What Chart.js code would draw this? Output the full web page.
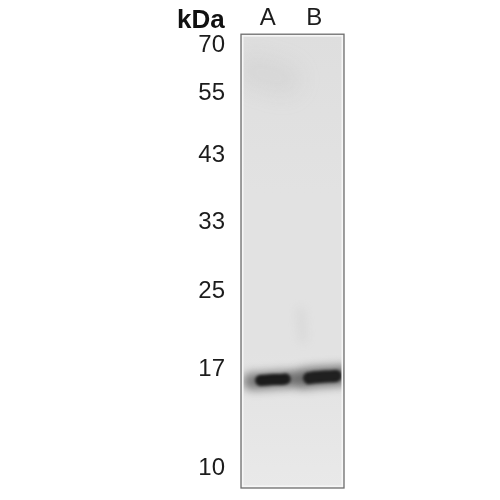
<!DOCTYPE html>
<html><head><meta charset="utf-8">
<style>html,body{margin:0;padding:0;background:#fff}canvas{display:block}</style>
<script src="https://cdn.jsdelivr.net/npm/chart.js@4"></script></head>
<body><canvas id="c" width="500" height="500"></canvas>
<script>
const unitLabel = "kDa";
const laneLabels = ["A", "B"];
const lanePositions = [26, 71];
const markerLabels = ["70", "55", "43", "33", "25", "17", "10"];
const markerPositions = [2.4, 13.1, 26.8, 41.5, 56.7, 73.8, 95.7];
const haloAX = [10, 20, 32, 42, 48];
const haloAY = [76.5, 76.4, 76.2, 76.1, 76.0];
const coreAX = [19, 26, 32, 38, 43];
const coreAY = [76.3, 76.2, 76.1, 76.1, 76.0];
const haloBX = [60, 68, 78, 88, 98];
const haloBY = [75.9, 75.7, 75.5, 75.4, 75.2];
const coreBX = [66, 72, 79, 86, 92];
const coreBY = [75.8, 75.6, 75.5, 75.4, 75.3];
const smearAX = [12, 42];
const smearAY = [8, 10];
const smearBX = [58, 60];
const smearBY = [61, 67];

function layer(xs, ys, color, width, blur) {
  return {
    data: xs.map((x, i) => ({x, y: ys[i]})),
    borderColor: color, borderWidth: width, borderCapStyle: "round",
    pointRadius: 0, tension: 0.4, blurPx: blur
  };
}
const blurPlugin = {
  id: "blur",
  beforeDatasetDraw(chart, args) {
    chart.ctx.save();
    chart.ctx.filter = "blur(" + args.meta.controller.getDataset().blurPx + "px)";
  },
  afterDatasetDraw(chart) { chart.ctx.restore(); }
};
const panelPlugin = {
  id: "panel",
  beforeDatasetsDraw(chart) {
    const {ctx, chartArea: a} = chart;
    const g = ctx.createLinearGradient(0, a.top, 0, a.bottom);
    g.addColorStop(0, "#dedede");
    g.addColorStop(0.35, "#e2e2e2");
    g.addColorStop(0.7, "#e2e2e2");
    g.addColorStop(1, "#e9e9e9");
    ctx.fillStyle = g;
    ctx.fillRect(a.left, a.top, a.width, a.height);
  },
  afterDatasetsDraw(chart) {
    const {ctx, chartArea: a} = chart;
    ctx.save();
    ctx.strokeStyle = "#f6f6f6"; ctx.lineWidth = 2;
    ctx.strokeRect(a.left + 1.5, a.top + 1.5, a.width - 3, a.height - 3);
    ctx.strokeStyle = "#6e6e6e"; ctx.lineWidth = 1.3;
    ctx.strokeRect(a.left, a.top, a.width, a.height);
    ctx.restore();
  }
};
new Chart(document.getElementById("c"), {
  type: "line",
  data: { datasets: [
    layer(smearAX, smearAY, "rgba(170,170,170,0.14)", 34, 10),
    layer(smearBX, smearBY, "rgba(190,190,190,0.25)", 8, 4),
    layer(haloAX, haloAY, "rgba(50,50,50,0.6)", 17, 5),
    layer(haloBX, haloBY, "rgba(50,50,50,0.65)", 20, 5),
    layer(coreAX, coreAY, "#000", 11, 1.4),
    layer(coreBX, coreBY, "#000", 12, 1.4)
  ]},
  plugins: [panelPlugin, blurPlugin],
  options: {
    responsive: false, animation: false, devicePixelRatio: 1,
    layout: { padding: { left: 177, right: 156, top: 0, bottom: 12 } },
    plugins: {
      legend: { display: false }, tooltip: { enabled: false },
      title: { display: true, text: unitLabel, align: "start", color: "#111",
        font: { family: "Liberation Sans", size: 26, weight: "bold" },
        padding: { top: 5, bottom: -35 } }
    },
    scales: {
      x: {
        type: "linear", position: "top", min: 0, max: 100,
        grid: { display: false, drawTicks: false }, border: { display: false },
        afterBuildTicks(s) { s.ticks = lanePositions.map(value => ({value})); },
        afterFit(s) { s.height = 33; s.paddingLeft = 0; s.paddingRight = 0; },
        ticks: { color: "#1c1c1c", maxRotation: 0, autoSkip: false, padding: 1,
          font: { family: "Liberation Sans", size: 24 },
          callback: (v) => laneLabels[lanePositions.indexOf(v)] }
      },
      y: {
        type: "linear", reverse: true, min: 0, max: 100,
        grid: { display: false, drawTicks: false }, border: { display: false },
        afterBuildTicks(s) { s.ticks = markerPositions.map(value => ({value})); },
        afterFit(s) { s.width = 64; s.paddingTop = 0; s.paddingBottom = 0; },
        ticks: { color: "#1c1c1c", autoSkip: false, padding: 16,
          font: { family: "Liberation Sans", size: 24 },
          callback: (v) => markerLabels[markerPositions.indexOf(v)] }
      }
    }
  }
});
</script></body></html>
